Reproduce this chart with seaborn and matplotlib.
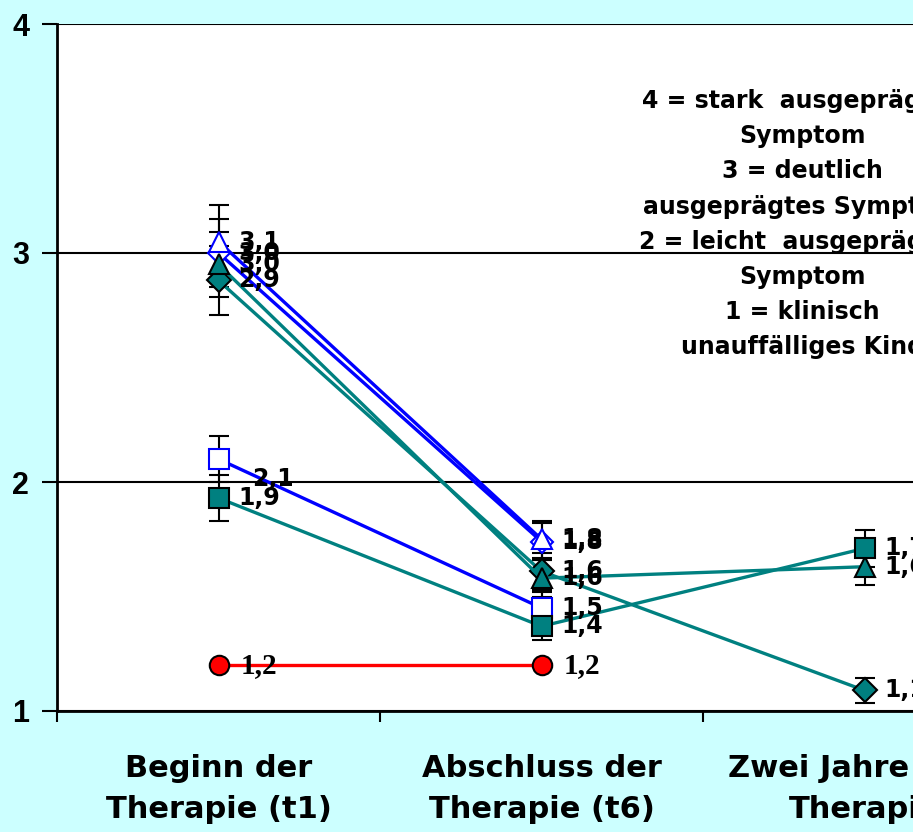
import numpy as np
import matplotlib
matplotlib.use("Agg")
import matplotlib.pyplot as plt
import seaborn as sns

# Data #
x_pos = [0, 1, 2]
x_labels = ["Beginn der\nTherapie (t1)", "Abschluss der\nTherapie (t6)", "Zwei Jahre nach\nTherapie"]
y_ticks = [1, 2, 3, 4]

blue_triangle = [3.05, 1.75, np.nan]
blue_diamond = [3.00, 1.74, np.nan]
teal_triangle = [2.95, 1.58, 1.63]
teal_diamond = [2.88, 1.61, 1.09]
blue_square = [2.10, 1.45, np.nan]
teal_square = [1.93, 1.37, 1.71]
red_circle = [1.20, 1.20, np.nan]

blue_triangle_err = [0.16, 0.08, np.nan]
blue_diamond_err = [0.15, 0.08, np.nan]
teal_triangle_err = [0.14, 0.08, 0.08]
teal_diamond_err = [0.15, 0.08, 0.055]
blue_square_err = [0.10, 0.07, np.nan]
teal_square_err = [0.10, 0.06, 0.08]

blue_triangle_lbl = ["3,1", "1,8", ""]
blue_diamond_lbl = ["3,0", "1,8", ""]
teal_triangle_lbl = ["3,0", "1,6", "1,6"]
teal_diamond_lbl = ["2,9", "1,6", "1,1"]
blue_square_lbl = ["2,1", "1,5", ""]
teal_square_lbl = ["1,9", "1,4", "1,7"]
red_circle_lbl = ["1,2", "1,2", ""]

legend_text = ("4 = stark  ausgeprägtes\nSymptom\n3 = deutlich\nausgeprägtes Symptom\n"
               "2 = leicht  ausgeprägtes\nSymptom\n1 = klinisch\nunauffälliges Kind")

# Colors #
blue = "#0000FF"
teal = "#008080"
red = "#FF0000"
bg = "#CCFFFF"

plt.rcParams['font.family'] = ['DejaVu Sans']

fig = plt.figure(figsize=(9.13, 8.32), dpi=100, facecolor=bg)
ax = fig.add_axes([57/913, 1 - 711/832, 969/913, 687/832])
ax.set_facecolor("white")

series = [
    (blue_diamond, blue_diamond_err, blue_diamond_lbl, blue, 'D', 11, "white", blue),
    (blue_triangle, blue_triangle_err, blue_triangle_lbl, blue, '^', 15, "white", blue),
    (teal_diamond, teal_diamond_err, teal_diamond_lbl, teal, 'D', 12, teal, "black"),
    (teal_triangle, teal_triangle_err, teal_triangle_lbl, teal, '^', 15, teal, "black"),
    (blue_square, blue_square_err, blue_square_lbl, blue, 's', 14, "white", blue),
    (teal_square, teal_square_err, teal_square_lbl, teal, 's', 14, teal, "black"),
    (red_circle, None, red_circle_lbl, red, 'o', 14, red, "black"),
]

for vals, err, lbls, col, mk, ms, mfc, mec in series:
    if err is not None:
        ax.errorbar(x_pos, vals, yerr=err, fmt='none', ecolor='black',
                     elinewidth=1.5, capsize=7, capthick=1.5, zorder=2)
    sns.lineplot(x=x_pos, y=vals, color=col, linewidth=2.4, marker=mk,
                 markersize=ms, markerfacecolor=mfc, markeredgecolor=mec,
                 markeredgewidth=1.5, ax=ax, zorder=3)
    serif = col == red
    for xi, yi, t in zip(x_pos, vals, lbls):
        if not t or np.isnan(yi):
            continue
        dx, dy = 14, 0
        if t == "2,1" and mk == 's':
            dx, dy = 24, -14
        if serif:
            ax.annotate(t, (xi, yi), xytext=(dx + 2, dy), textcoords='offset points',
                        ha='left', va='center', fontsize=21, fontweight='bold',
                        family='Liberation Serif', zorder=5, annotation_clip=False)
        else:
            ax.annotate(t, (xi, yi), xytext=(dx, dy), textcoords='offset points',
                        ha='left', va='center', fontsize=17, fontweight='bold',
                        zorder=5, annotation_clip=False)

ax.set_xlim(-0.5, 2.5)
ax.set_ylim(1, 4)
ax.set_yticks(y_ticks)
ax.set_yticklabels([str(v) for v in y_ticks], fontsize=22, fontweight='bold',
                   family='Liberation Sans')
ax.set_xticks(x_pos)
ax.set_xticklabels(x_labels, fontsize=22, fontweight='bold', ha='center',
                   multialignment='center', linespacing=1.5)
ax.set_xticks([-0.5, 0.5, 1.5, 2.5], minor=True)
ax.tick_params(axis='x', which='major', length=0, pad=31)
ax.tick_params(axis='x', which='minor', length=8, width=1.5, direction='out')
ax.tick_params(axis='y', length=11, width=1.5, direction='out', pad=9)
ax.yaxis.grid(True, color='black', linewidth=1.5)
ax.set_axisbelow(True)
ax.set_xlabel('')
ax.set_ylabel('')
for s in ['top', 'right']:
    ax.spines[s].set_visible(False)
for s in ['left', 'bottom']:
    ax.spines[s].set_linewidth(2)
    ax.spines[s].set_color('black')

fig.text(802/913, 1 - 89/832, legend_text, ha='center', va='top', fontsize=17,
         fontweight='bold', linespacing=1.59)

fig.savefig("out.png", dpi=100, facecolor=fig.get_facecolor())
